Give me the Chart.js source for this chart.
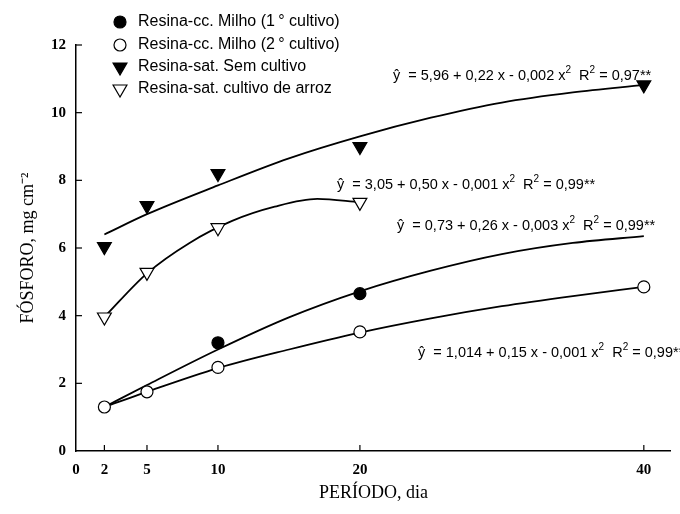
<!DOCTYPE html>
<html>
<head>
<meta charset="utf-8">
<script src="https://cdn.jsdelivr.net/npm/chart.js@4.4.0/dist/chart.umd.min.js"></script>
<style>
  html, body { margin: 0; padding: 0; background: #fff; }
  #wrap { width: 680px; height: 514px; }
</style>
</head>
<body>
<div id="wrap"><canvas id="myChart" width="680" height="514"></canvas></div>
<script>
// tick values on the x axis
var xTicks = [0, 2, 5, 10, 20, 40];

// measured points
var milho1X = [10, 20];
var milho1Y = [3.2, 4.65];
var milho2X = [2, 5, 10, 20, 40];
var milho2Y = [1.3, 1.75, 2.47, 3.52, 4.85];
var semX = [2, 5, 10, 20, 40];
var semY = [6.04, 7.25, 8.2, 9.0, 10.82];
var arrozX = [2, 5, 10, 20];
var arrozY = [3.96, 5.28, 6.6, 7.35];

// fitted curves
var fitMilho1X = [2, 5, 10, 15, 20, 25, 30, 35, 40];
var fitMilho1Y = [1.3, 1.95, 3.0, 3.95, 4.72, 5.33, 5.82, 6.15, 6.35];
var fitMilho2X = [2, 5, 10, 15, 20, 25, 30, 35, 40];
var fitMilho2Y = [1.3, 1.75, 2.45, 3.0, 3.5, 3.92, 4.28, 4.58, 4.85];
var fitSemX = [2, 5, 10, 15, 20, 25, 30, 35, 40];
var fitSemY = [6.4, 7.0, 7.85, 8.65, 9.3, 9.85, 10.3, 10.6, 10.82];
var fitArrozX = [2, 5, 8, 11, 14, 17, 20];
var fitArrozY = [3.96, 5.25, 6.15, 6.8, 7.22, 7.45, 7.35];

var legendLabels = [
  'Resina-cc. Milho (1\u2009\u00B0 cultivo)',
  'Resina-cc. Milho (2\u2009\u00B0 cultivo)',
  'Resina-sat. Sem cultivo',
  'Resina-sat. cultivo de arroz'
];

// equations: normal text and superscripts alternate
var eqSem = ['\u0177  = 5,96 + 0,22 x - 0,002 x', '2', '  R', '2', ' = 0,97**'];
var eqArroz = ['\u0177  = 3,05 + 0,50 x - 0,001 x', '2', '  R', '2', ' = 0,99**'];
var eqMilho1 = ['\u0177  = 0,73 + 0,26 x - 0,003 x', '2', '  R', '2', ' = 0,99**'];
var eqMilho2 = ['\u0177  = 1,014 + 0,15 x - 0,001 x', '2', '  R', '2', ' = 0,99**'];

function pts(xs, ys) {
  return xs.map(function (x, i) { return {x: x, y: ys[i]}; });
}

var markers = [
  {pointStyle: 'circle', radius: 6, rotation: 0, fill: '#000'},
  {pointStyle: 'circle', radius: 6, rotation: 0, fill: '#fff'},
  {pointStyle: 'triangle', radius: 8, rotation: 180, fill: '#000'},
  {pointStyle: 'triangle', radius: 8, rotation: 180, fill: '#fff'}
];

function markerSet(data, m) {
  return {
    type: 'scatter',
    data: data,
    order: 1,
    pointStyle: m.pointStyle,
    pointRadius: m.radius,
    pointRotation: m.rotation,
    pointBackgroundColor: m.fill,
    pointBorderColor: '#000',
    pointBorderWidth: 1.2,
    showLine: false
  };
}

function curveSet(data) {
  return {
    type: 'line',
    data: data,
    order: 2,
    borderColor: '#000',
    borderWidth: 1.8,
    pointRadius: 0,
    fill: false,
    cubicInterpolationMode: 'monotone'
  };
}

var extras = {
  id: 'extras',
  afterDraw: function (chart) {
    var ctx = chart.ctx;
    var xs = chart.scales.x, ys = chart.scales.y;
    ctx.save();
    // inner tick marks
    ctx.strokeStyle = '#000';
    ctx.lineWidth = 1.2;
    xTicks.forEach(function (v) {
      if (v === 0) return;
      var px = xs.getPixelForValue(v);
      ctx.beginPath();
      ctx.moveTo(px, ys.bottom);
      ctx.lineTo(px, ys.bottom - 6);
      ctx.stroke();
    });
    for (var v = 2; v <= 12; v += 2) {
      var py = ys.getPixelForValue(v);
      ctx.beginPath();
      ctx.moveTo(xs.left, py);
      ctx.lineTo(xs.left + 6, py);
      ctx.stroke();
    }

    // legend
    ctx.font = '16px "Liberation Sans", Arial, sans-serif';
    ctx.textBaseline = 'middle';
    ctx.textAlign = 'left';
    var rows = [22, 45, 67, 89];
    legendLabels.forEach(function (label, i) {
      var m = markers[i];
      ctx.fillStyle = m.fill;
      ctx.strokeStyle = '#000';
      ctx.lineWidth = 1.2;
      Chart.helpers.drawPoint(ctx, {pointStyle: m.pointStyle, radius: m.radius, rotation: m.rotation, borderWidth: 1.2}, 120, rows[i]);
      ctx.fillStyle = '#000';
      ctx.fillText(label, 138, rows[i]);
    });

    // equations
    function eq(parts, x, y) {
      ctx.textBaseline = 'alphabetic';
      parts.forEach(function (t, i) {
        var sup = i % 2 === 1;
        ctx.font = (sup ? '10px' : '14.5px') + ' "Liberation Sans", Arial, sans-serif';
        ctx.fillText(t, x, sup ? y - 7 : y);
        x += ctx.measureText(t).width;
      });
    }
    ctx.fillStyle = '#000';
    eq(eqSem, 393, 80);
    eq(eqArroz, 337, 189);
    eq(eqMilho1, 397, 230);
    eq(eqMilho2, 418, 357);
    ctx.restore();
  }
};

var ctx = document.getElementById('myChart').getContext('2d');
var myChart = new Chart(ctx, {
  data: {
    datasets: [
      markerSet(pts(milho1X, milho1Y), markers[0]),
      markerSet(pts(milho2X, milho2Y), markers[1]),
      markerSet(pts(semX, semY), markers[2]),
      markerSet(pts(arrozX, arrozY), markers[3]),
      curveSet(pts(fitMilho1X, fitMilho1Y)),
      curveSet(pts(fitMilho2X, fitMilho2Y)),
      curveSet(pts(fitSemX, fitSemY)),
      curveSet(pts(fitArrozX, fitArrozY))
    ]
  },
  options: {
    responsive: false,
    animation: false,
    layout: { padding: { top: 45, right: 0, bottom: 0, left: 0 } },
    plugins: {
      legend: { display: false },
      tooltip: { enabled: false }
    },
    scales: {
      x: {
        type: 'linear',
        min: 0,
        max: 41.9,
        afterBuildTicks: function (s) { s.ticks = xTicks.map(function (v) { return {value: v}; }); },
        afterFit: function (s) { s.height = 63; },
        grid: { display: false, drawTicks: false, tickLength: 0 },
        border: { display: true, color: '#000', width: 1.5 },
        ticks: {
          color: '#000',
          padding: 10,
          maxRotation: 0,
          autoSkip: false,
          font: { family: '"Liberation Serif", "Times New Roman", serif', size: 15, weight: 'bold' }
        },
        title: {
          display: true,
          text: 'PERÍODO, dia',
          color: '#000',
          padding: { top: 0, bottom: 10 },
          font: { family: '"Liberation Serif", "Times New Roman", serif', size: 18 }
        }
      },
      y: {
        type: 'linear',
        min: 0,
        max: 12,
        afterFit: function (s) { s.width = 76; },
        grid: { display: false, drawTicks: false, tickLength: 0 },
        border: { display: true, color: '#000', width: 1.5 },
        ticks: {
          stepSize: 2,
          color: '#000',
          padding: 10,
          font: { family: '"Liberation Serif", "Times New Roman", serif', size: 15, weight: 'bold' }
        },
        title: {
          display: true,
          text: 'FÓSFORO, mg cm\u207B\u00B2',
          color: '#000',
          padding: { top: 17, bottom: 0 },
          font: { family: '"Liberation Serif", "Times New Roman", serif', size: 18 }
        }
      }
    }
  },
  plugins: [extras]
});
</script>
</body>
</html>
